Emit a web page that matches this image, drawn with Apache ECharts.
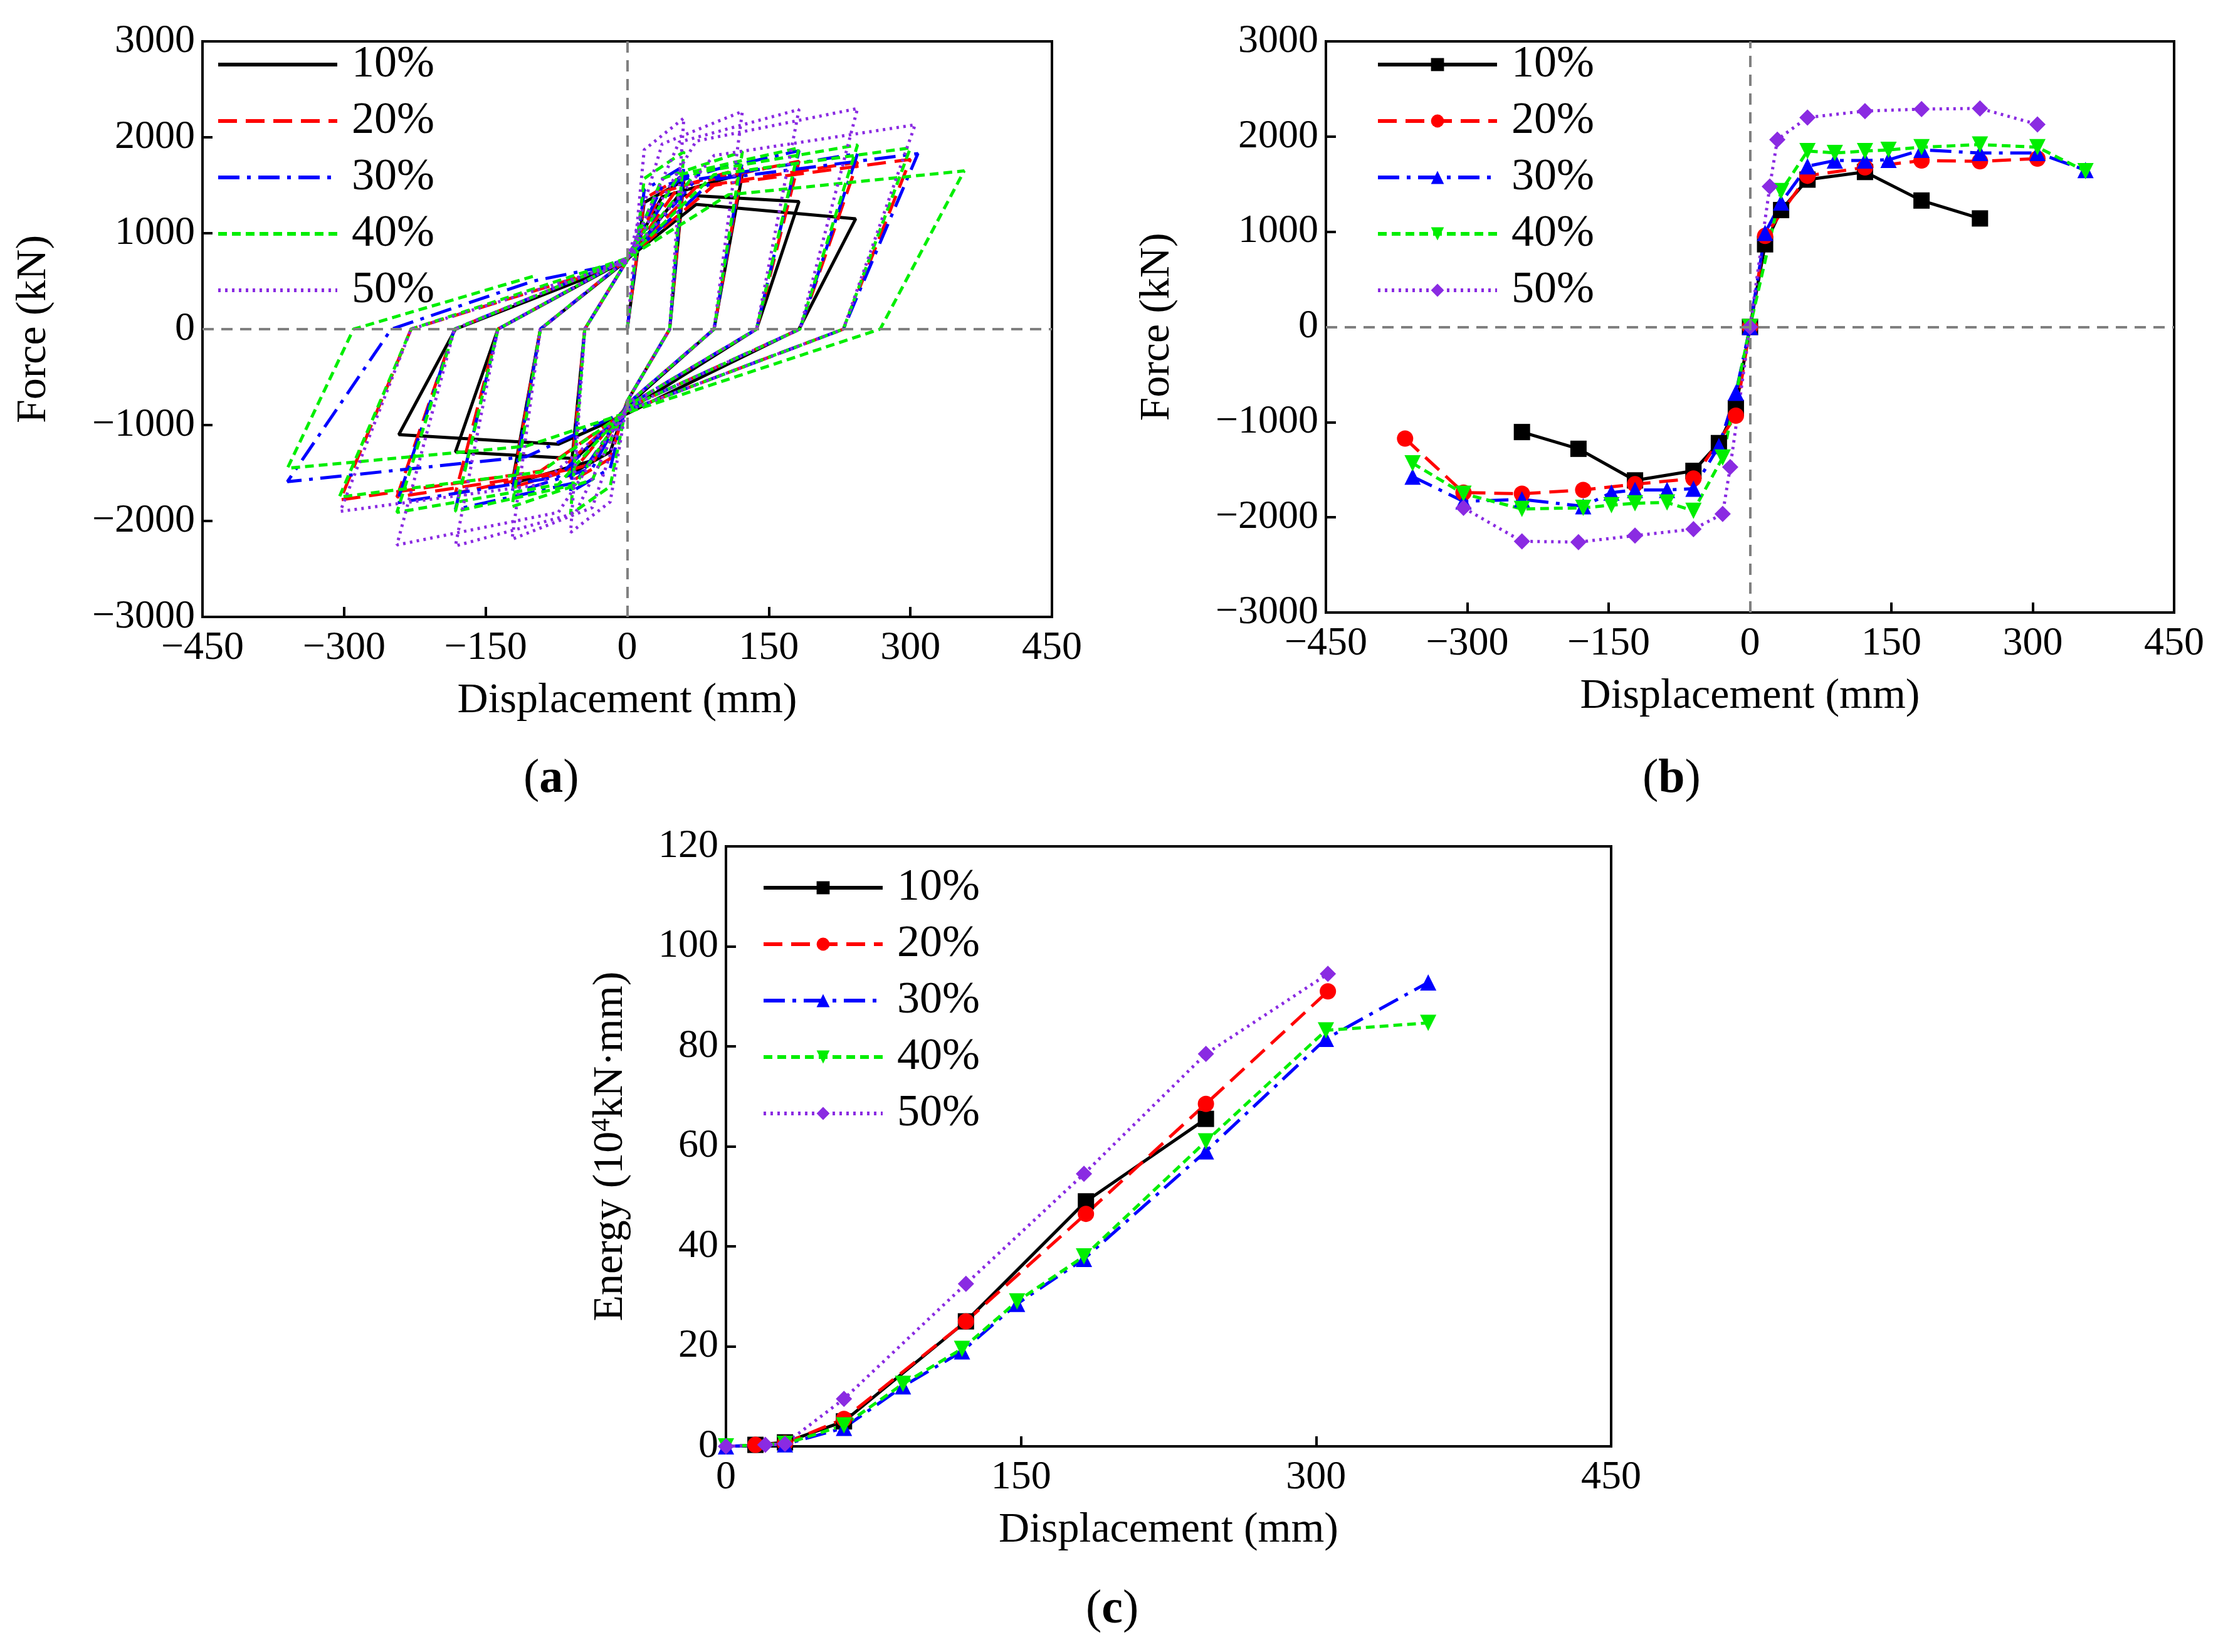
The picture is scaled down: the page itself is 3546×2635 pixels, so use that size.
<!DOCTYPE html>
<html><head><meta charset="utf-8">
<script src="https://cdn.jsdelivr.net/npm/echarts@6/dist/echarts.min.js"></script>
<style>html,body{margin:0;background:#fff}#c{width:3546px;height:2635px}</style>
</head><body><div id="c"></div>
<script>
const names = ['10%','20%','30%','40%','50%'];
const colors = ['#000000','#ff0000','#0000ff','#00ee00','#8a2be2'];
const dashes = ['solid',[30,14],[34,12,6,12],[14,8],[4,7]];
const symbols = ['rect','circle','triangle','path://M0,0L10,0L5,10Z','diamond'];

// (a) hysteresis loops [disp, force]
const hyst10 = [[0,0],[18,1320],[60,1550],[45,0],[0,-750],[-18,-1280],[-60,-1510],[-45,0],[0,720],
 [37,1380],[122,1620],[92,0],[0,-800],[-37,-1370],[-122,-1610],[-92,0],[0,720],
 [55,1400],[182,1330],[137,0],[0,-850],[-55,-1350],[-182,-1280],[-137,0],[0,730],
 [73,1300],[242,1150],[182,0],[0,-880],[-73,-1200],[-242,-1100],[-182,0],[0,700]];
const hyst20 = [[0,0],[18,1360],[60,1600],[45,0],[0,-750],[-18,-1350],[-60,-1590],[-45,0],[0,720],
 [37,1430],[122,1680],[92,0],[0,-780],[-37,-1400],[-122,-1650],[-92,0],[0,730],
 [55,1490],[182,1750],[137,0],[0,-800],[-55,-1450],[-182,-1710],[-137,0],[0,740],
 [73,1480],[244,1740],[183,0],[0,-820],[-73,-1490],[-244,-1750],[-183,0],[0,740],
 [92,1500],[300,1770],[229,0],[0,-850],[-92,-1480],[-304,-1780],[-229,0],[0,700]];
const hyst30 = [[0,0],[18,1450],[60,1700],[45,0],[0,-750],[-18,-1450],[-60,-1700],[-45,0],[0,720],
 [37,1490],[122,1750],[92,0],[0,-780],[-37,-1450],[-122,-1710],[-92,0],[0,730],
 [55,1580],[182,1860],[137,0],[0,-800],[-55,-1600],[-182,-1880],[-137,0],[0,740],
 [73,1560],[244,1830],[183,0],[0,-820],[-73,-1540],[-244,-1810],[-183,0],[0,740],
 [92,1560],[308,1830],[229,0],[0,-850],[-107,-1330],[-360,-1590],[-250,0],[-100,500],[0,700]];
const hyst40 = [[0,0],[18,1570],[60,1850],[45,0],[0,-750],[-18,-1640],[-60,-1930],[-45,0],[0,720],
 [37,1570],[122,1850],[92,0],[0,-780],[-37,-1570],[-122,-1850],[-92,0],[0,730],
 [55,1610],[182,1890],[137,0],[0,-800],[-55,-1620],[-182,-1900],[-137,0],[0,740],
 [73,1630],[244,1920],[183,0],[0,-820],[-73,-1620],[-244,-1910],[-183,0],[0,740],
 [92,1610],[300,1890],[229,0],[0,-850],[-92,-1490],[-305,-1750],[-229,0],[0,740],
 [107,1400],[357,1650],[268,0],[0,-870],[-107,-1220],[-360,-1450],[-290,0],[-100,550]];
const hyst50 = [[0,0],[18,1870],[60,2200],[45,0],[0,-750],[-18,-1800],[-60,-2120],[-45,0],[0,720],
 [37,1930],[122,2270],[92,0],[0,-780],[-37,-1860],[-122,-2190],[-92,0],[0,730],
 [55,1950],[182,2290],[137,0],[0,-800],[-55,-1920],[-182,-2260],[-137,0],[0,740],
 [73,1960],[244,2300],[183,0],[0,-820],[-73,-1910],[-244,-2250],[-183,0],[0,740],
 [92,1810],[305,2130],[229,0],[0,-850],[-92,-1620],[-304,-1900],[-229,0],[0,700]];

// (b) skeleton curves
const skel10 = [[-242,-1104],[-182,-1280],[-122,-1612],[-60,-1512],[-33,-1220],[-15,-852],[0,0],[16,868],[33,1228],[61,1548],[122,1628],[182,1328],[244,1140]];
const skel20 = [[-366,-1172],[-304,-1740],[-242,-1752],[-177,-1712],[-122,-1652],[-60,-1592],[-15,-932],[0,0],[16,956],[61,1588],[122,1676],[182,1748],[244,1740],[305,1768]];
const skel30 = [[-358,-1572],[-304,-1832],[-242,-1812],[-177,-1884],[-147,-1740],[-122,-1712],[-88,-1712],[-60,-1700],[-33,-1252],[-15,-692],[0,0],[16,988],[33,1308],[61,1688],[90,1748],[122,1748],[147,1756],[182,1860],[244,1828],[305,1828],[356,1648]];
const skel40 = [[-358,-1432],[-304,-1752],[-242,-1912],[-177,-1900],[-147,-1872],[-122,-1852],[-88,-1844],[-60,-1932],[-29,-1372],[0,0],[33,1428],[61,1848],[90,1828],[122,1848],[147,1860],[182,1888],[244,1916],[305,1888],[356,1636]];
const skel50 = [[-304,-1900],[-242,-2252],[-182,-2260],[-122,-2192],[-60,-2124],[-29,-1964],[-21,-1472],[0,0],[21,1476],[29,1968],[61,2200],[122,2268],[182,2288],[244,2296],[305,2128]];

// (c) energy
const en10 = [[15,0.3],[30,0.8],[60,5],[122,25],[183,49],[244,65.5]];
const en20 = [[15,0.3],[30,0.6],[60,5.5],[122,25],[183,46.5],[244,68.5],[306,91]];
const en30 = [[0,0],[30,0.4],[60,3.7],[90,12],[120,19],[148,28.5],[182,37.5],[244,59],[305,81.5],[357,92.8]];
const en40 = [[0,0],[30,0.5],[60,4.2],[90,12.5],[120,19.5],[148,29],[182,38],[244,61],[305,83.2],[357,84.7]];
const en50 = [[0,0],[20,0.3],[30,0.5],[60,9.5],[122,32.5],[182,54.5],[244,78.5],[306,94.5]];

const hyst = [hyst10,hyst20,hyst30,hyst40,hyst50];
const skel = [skel10,skel20,skel30,skel40,skel50];
const en = [en10,en20,en30,en40,en50];

const FONT = "'Liberation Serif', 'DejaVu Serif', serif";
const fmt = v => v < 0 ? '\u2212' + Math.abs(v) : String(v);
function xAx(gi, min, max, itv){
  return {gridIndex:gi, type:'value', min, max, interval:itv,
    name:'Displacement (mm)', nameLocation:'middle', nameGap:100,
    nameTextStyle:{fontFamily:FONT,fontSize:68,color:'#000'},
    axisLine:{onZero:false,lineStyle:{color:'#000',width:4}},
    axisTick:{inside:true,length:16,lineStyle:{width:4,color:'#000'}},
    axisLabel:{fontFamily:FONT,fontSize:64,color:'#000',margin:18,formatter:fmt},
    splitLine:{show:false}};
}
function yAx(gi, min, max, itv, name, gap){
  return {gridIndex:gi, type:'value', min, max, interval:itv,
    name, nameLocation:'middle', nameGap:gap,
    nameTextStyle:{fontFamily:FONT,fontSize:68,color:'#000',
      rich:{sup:{fontFamily:FONT,fontSize:42,verticalAlign:'top',padding:[0,0,24,0]}}},
    axisLine:{onZero:false,lineStyle:{color:'#000',width:4}},
    axisTick:{inside:true,length:16,lineStyle:{width:4,color:'#000'}},
    axisLabel:{fontFamily:FONT,fontSize:64,color:'#000',margin:12,formatter:fmt},
    splitLine:{show:false}};
}
const grids = [
  {left:323, top:66, width:1355, height:918, show:true, borderColor:'#000', borderWidth:4},
  {left:2115, top:66, width:1353, height:911, show:true, borderColor:'#000', borderWidth:4},
  {left:1158, top:1350, width:1412, height:957, show:true, borderColor:'#000', borderWidth:4}
];
const zeroLines = {silent:true, symbol:'none', label:{show:false},
  lineStyle:{color:'#808080', type:[18,12], width:4},
  data:[{xAxis:0},{yAxis:0}]};

const series = [];
const legends = [];
const legendPos = [[340,62],[2190,62],[1210,1375]];
for (let p=0;p<3;p++){
  const src = [hyst,skel,en][p];
  const suffix = ' '.repeat(p);
  const ldata = [];
  for (let i=0;i<5;i++){
    const nm = names[i]+suffix;
    ldata.push(nm);
    series.push({name:nm, type:'line', xAxisIndex:p, yAxisIndex:p, data:src[i],
      symbol: p===0 ? 'none' : symbols[i], symbolSize: 26, showSymbol: p!==0,
      z: 3,
      lineStyle:{color:colors[i], width:5, type:dashes[i]},
      itemStyle:{color:colors[i]},
      markLine: (p<2 && i===0) ? zeroLines : undefined,
      animation:false});
  }
  legends.push({left:legendPos[p][0], top:legendPos[p][1], orient:'vertical', data:ldata,
    itemWidth:190, itemHeight:26, itemGap:18, selectedMode:false,
    lineStyle:{width:6},
    itemStyle: p===0 ? {opacity:0} : {},
    textStyle:{fontFamily:FONT,fontSize:72,color:'#000',padding:[0,0,0,18]}});
}

const chart = echarts.init(document.getElementById('c'));
chart.setOption({
  backgroundColor:'#fff', animation:false,
  grid: grids,
  xAxis:[xAx(0,-450,450,150), xAx(1,-450,450,150), xAx(2,0,450,150)],
  yAxis:[yAx(0,-3000,3000,1000,'Force (kN)',235), yAx(1,-3000,3000,1000,'Force (kN)',235),
         yAx(2,0,120,20,'Energy (10{sup|4}kN\u00b7mm)',150)],
  legend: legends,
  series,
  graphic:[
    {type:'text', left:835, top:1205, style:{text:'({b|a})', fontFamily:FONT, fontSize:76, fill:'#000', rich:{b:{fontFamily:FONT,fontSize:76,fontWeight:'bold'}}}},
    {type:'text', left:2620, top:1205, style:{text:'({b|b})', fontFamily:FONT, fontSize:76, fill:'#000', rich:{b:{fontFamily:FONT,fontSize:76,fontWeight:'bold'}}}},
    {type:'text', left:1732, top:2530, style:{text:'({b|c})', fontFamily:FONT, fontSize:76, fill:'#000', rich:{b:{fontFamily:FONT,fontSize:76,fontWeight:'bold'}}}}
  ]
});
</script></body></html>
